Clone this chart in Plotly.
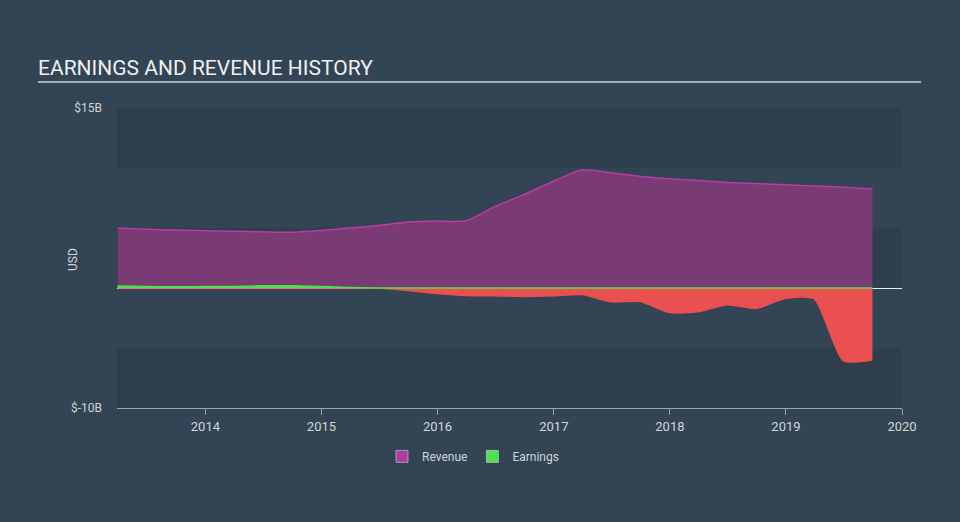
import plotly.graph_objects as go
import numpy as np

dates = ["2013-03-31", "2013-06-30", "2013-09-30", "2013-12-31",
         "2014-03-31", "2014-06-30", "2014-09-30", "2014-12-31",
         "2015-03-31", "2015-06-30", "2015-09-30", "2015-12-31",
         "2016-03-31", "2016-06-30", "2016-09-30", "2016-12-31",
         "2017-03-31", "2017-06-30", "2017-09-30", "2017-12-31",
         "2018-03-31", "2018-06-30", "2018-09-30", "2018-12-31",
         "2019-03-31", "2019-06-30", "2019-09-30"]
revenue = [4.97, 4.90, 4.83, 4.78, 4.72, 4.68, 4.64, 4.80, 5.00, 5.20, 5.50, 5.58,
           5.60, 6.80, 7.80, 8.90, 9.85, 9.60, 9.30, 9.10, 8.95, 8.80, 8.70, 8.60,
           8.50, 8.40, 8.25]
earnings = [0.17, 0.12, 0.10, 0.12, 0.12, 0.18, 0.18, 0.12, 0.05, -0.02, -0.20, -0.45,
            -0.62, -0.65, -0.70, -0.65, -0.55, -1.15, -1.12, -2.05, -1.98, -1.40, -1.70, -0.85,
            -0.90, -6.05, -6.00]

y_ticks = [-10, 15]
y_tick_labels = ["$-10B", "$15B"]
x_ticks = ["2014-01-01", "2015-01-01", "2016-01-01", "2017-01-01", "2018-01-01", "2019-01-01", "2020-01-01"]
x_tick_labels = ["2014", "2015", "2016", "2017", "2018", "2019", "2020"]

BG = "#334454"
BAND = "#2f3e4d"
REV_LINE = "#b83ca4"
REV_FILL = "#7a3a74"
EARN_GREEN = "#4ee04e"
EARN_RED = "#e9504f"
TXT = "#d0d4d8"

earn = np.array(earnings)
earn_pos = np.maximum(earn, 0)
earn_neg = np.minimum(earn, 0)

fig = go.Figure()
fig.add_trace(go.Scatter(x=dates, y=revenue, mode="lines", line=dict(color=REV_LINE, width=1.5, shape="spline", smoothing=0.6),
                         fill="tozeroy", fillcolor=REV_FILL, showlegend=False, hoverinfo="skip"))
fig.add_trace(go.Scatter(x=dates, y=earn_neg, mode="lines", line=dict(color=EARN_RED, width=1.5, shape="spline", smoothing=0.6),
                         fill="tozeroy", fillcolor=EARN_RED, showlegend=False, hoverinfo="skip"))
fig.add_trace(go.Scatter(x=dates, y=earn_pos, mode="lines", line=dict(color=EARN_GREEN, width=1.5, shape="spline", smoothing=0.6),
                         fill="tozeroy", fillcolor=EARN_GREEN, showlegend=False, hoverinfo="skip"))
# legend swatches
fig.add_trace(go.Bar(x=[None], y=[None], name="Revenue", marker_color="#b03ca0"))
fig.add_trace(go.Bar(x=[None], y=[None], name="Earnings", marker_color=EARN_GREEN))

shapes = []
for lo, hi in [(10, 15), (0, 5), (-10, -5)]:
    shapes.append(dict(type="rect", xref="paper", yref="y", x0=0, x1=1, y0=lo, y1=hi,
                       fillcolor=BAND, line=dict(width=0), layer="below"))
shapes.append(dict(type="line", xref="paper", yref="paper", x0=-(117-38)/785, x1=(921-117)/785,
                   y0=(408-82)/300, y1=(408-82)/300, line=dict(color="#a9adb2", width=2)))

fig.update_layout(
    width=960, height=522,
    paper_bgcolor=BG, plot_bgcolor=BG,
    margin=dict(l=117, r=58, t=108, b=114, autoexpand=False),
    font=dict(family="Roboto", color=TXT, size=12),
    shapes=shapes,
    showlegend=True,
    legend=dict(orientation="h", x=(473-117)/785, xanchor="center", y=-0.113, yanchor="top",
                font=dict(size=12, color=TXT), bgcolor="rgba(0,0,0,0)"),
    annotations=[
        dict(text="EARNINGS AND REVENUE HISTORY", xref="paper", yref="paper",
             x=-(117-36)/785, y=(408-68)/300, xanchor="left", yanchor="middle",
             showarrow=False, font=dict(size=21, color="#eef0f2", family="Roboto")),
        dict(text="USD", xref="paper", yref="paper", x=-(117-73)/785, y=(408-260)/300,
             xanchor="center", yanchor="middle", textangle=-90, showarrow=False,
             font=dict(size=12, color=TXT)),
    ],
    xaxis=dict(type="date", range=["2013-03-29", "2020-01-01"], tickvals=x_ticks, ticktext=x_tick_labels,
               showgrid=False, zeroline=False, showline=True, linecolor="#9aa3ad", linewidth=1,
               ticks="outside", ticklen=6, tickcolor="#9aa3ad", tickfont=dict(size=13, color=TXT)),
    yaxis=dict(range=[-10, 15], tickvals=y_ticks, ticktext=y_tick_labels, showgrid=False,
               zeroline=True, zerolinecolor="#e8ecef", zerolinewidth=1, showline=False,
               ticks="", tickfont=dict(size=12, color=TXT), ticklabelstandoff=14),
)

fig.write_html("out.html")
